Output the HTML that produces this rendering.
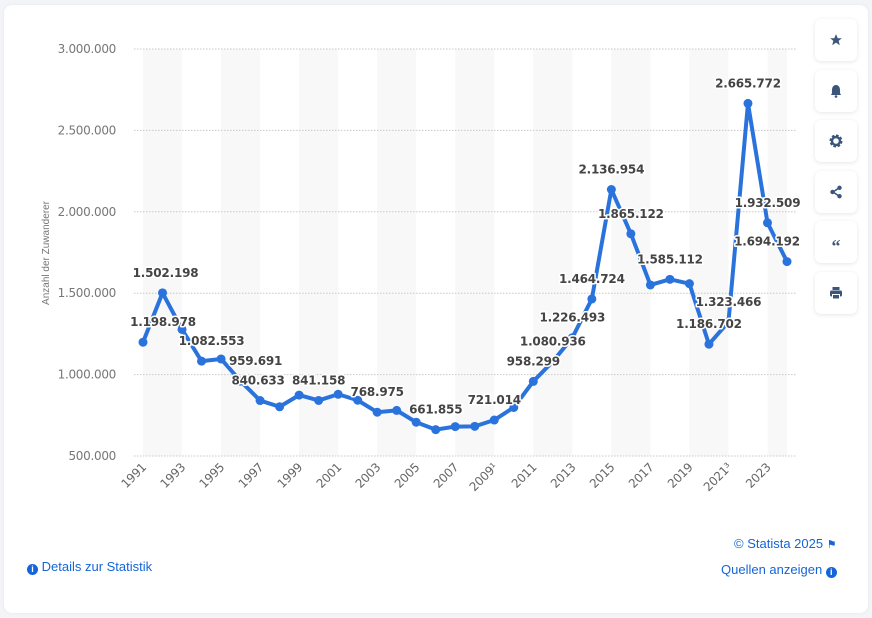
<!DOCTYPE html>
<html><head><meta charset="utf-8">
<style>
body{margin:0;width:872px;height:618px;background:#f3f4f7;font-family:"Liberation Sans",sans-serif;overflow:hidden;position:relative}
.card{position:absolute;left:4px;top:5px;width:864px;height:608px;background:#fff;border-radius:8px;box-shadow:0 0 3px rgba(0,0,0,0.06)}
.btn{position:absolute;left:815px;width:42px;height:42px;background:#fff;border-radius:6px;box-shadow:0 1px 4px rgba(0,0,0,0.1);display:flex;align-items:center;justify-content:center}
.lnk{position:absolute;color:#1565d8;font-size:13px}
.ic{display:inline-block;width:11px;height:11px;border-radius:50%;background:#1565d8;color:#fff;font-size:9px;font-weight:bold;text-align:center;line-height:11px;vertical-align:-1px}
</style></head><body>
<div class="card"></div>
<svg id="chart" width="872" height="618" style="position:absolute;left:0;top:0"></svg>
<div class="btn" style="top:19px"><svg width="14" height="14" viewBox="0 0 24 24"><path d="M12 2l3 7h7l-5.5 4.5 2 7.5-6.5-4.5-6.5 4.5 2-7.5L2 9h7z" fill="#3c5679"/></svg></div>
<div class="btn" style="top:70px"><svg width="12" height="14" viewBox="0 0 12 14"><path d="M6 1C3 1 2 4 2 6v3L1 11h10l-1-2V6c0-2-1-5-4-5z" fill="#3c5679"/><circle cx="6" cy="12.5" r="1.3" fill="#3c5679"/></svg></div>
<div class="btn" style="top:120px"><svg width="14" height="14" viewBox="0 0 14 14"><circle cx="7" cy="7" r="5" fill="none" stroke="#3c5679" stroke-width="3" stroke-dasharray="2.4 1.5"/><circle cx="7" cy="7" r="4" fill="none" stroke="#3c5679" stroke-width="2.4"/></svg></div>
<div class="btn" style="top:171px"><svg width="14" height="14" viewBox="0 0 14 14"><path d="M10 3L4 7l6 4" stroke="#3c5679" stroke-width="1.6" fill="none"/><circle cx="10.5" cy="2.8" r="2.2" fill="#3c5679"/><circle cx="3.5" cy="7" r="2.2" fill="#3c5679"/><circle cx="10.5" cy="11.2" r="2.2" fill="#3c5679"/></svg></div>
<div class="btn" style="top:221px;color:#3c5679;font-weight:bold;font-size:18px;font-family:'Liberation Serif',serif;line-height:42px"><span style="margin-top:8px">&#8220;</span></div>
<div class="btn" style="top:272px"><svg width="14" height="14" viewBox="0 0 14 14"><rect x="3.5" y="1" width="7" height="3" fill="#3c5679"/><rect x="1" y="4.5" width="12" height="6" rx="1.5" fill="#3c5679"/><rect x="3.5" y="8.5" width="7" height="4.5" fill="#3c5679" stroke="#fff" stroke-width="1"/></svg></div>
<div class="lnk" style="left:27px;top:559px"><span class="ic">i</span> Details zur Statistik</div>
<div class="lnk" style="left:734px;top:536px">© Statista 2025 <span style="font-size:11px">&#9873;</span></div>
<div class="lnk" style="left:721px;top:562px">Quellen anzeigen <span class="ic">i</span></div>
<script>
const years=[1991,1992,1993,1994,1995,1996,1997,1998,1999,2000,2001,2002,2003,2004,2005,2006,2007,2008,2009,2010,2011,2012,2013,2014,2015,2016,2017,2018,2019,2020,2021,2022,2023,2024];
const values=[1198978,1502198,1277408,1082553,1096048,959691,840633,802456,874023,841158,879217,842543,768975,780175,707352,661855,680766,682146,721014,798282,958299,1080936,1226493,1464724,2136954,1865122,1550721,1585112,1558612,1186702,1323466,2665772,1932509,1694192];
const labeled=[1991,1992,1994,1996,1997,2000,2003,2006,2009,2011,2012,2013,2014,2015,2016,2018,2020,2021,2022,2023,2024];
const yTicks=[500000,1000000,1500000,2000000,2500000,3000000];
const xTickLabels=["1991","1993","1995","1997","1999","2001","2003","2005","2007","2009¹","2011","2013","2015","2017","2019","2021³","2023"];
const NS="http://www.w3.org/2000/svg",svg=document.getElementById('chart');
const x0=143,x1=787,yTop=49,yBot=456,vMin=500000,vMax=3000000;
const xs=y=>x0+(y-years[0])*(x1-x0)/(years[years.length-1]-years[0]);
const ys=v=>yBot-(v-vMin)*(yBot-yTop)/(vMax-vMin);
const fmt=v=>String(v).replace(/\B(?=(\d{3})+(?!\d))/g,'.');
const labelShift={1991:20,1992:3,1994:10,1996:15,1997:-2,2024:-20};
function el(t,a){const e=document.createElementNS(NS,t);for(const k in a)e.setAttribute(k,a[k]);svg.appendChild(e);return e;}
for(let y=1991;y<=2024;y+=4){const b=el('rect',{x:xs(y),y:yTop,width:xs(Math.min(y+2,2024))-xs(y),height:yBot-yTop,fill:'#f8f8f8'});

}
yTicks.forEach(t=>{const l=el('line',{x1:134,x2:796,y1:ys(t),y2:ys(t),stroke:'#c8c8c8','stroke-dasharray':'1.5 1.5'});


const tx=el('text',{x:116,y:ys(t)+4,'text-anchor':'end','font-size':'12',fill:'#777','font-family':'DejaVu Sans, sans-serif','letter-spacing':'-0.3'});tx.textContent=fmt(t);

});
const yt=el('text',{transform:'translate(49,253) rotate(-90)','text-anchor':'middle','font-size':'10',fill:'#777'});yt.textContent='Anzahl der Zuwanderer';


xTickLabels.forEach((s,i)=>{const yr=1991+2*i,x=xs(yr);const t=el('text',{transform:`translate(${x+4},${468}) rotate(-45)`,'text-anchor':'end','font-size':'12',fill:'#666','font-family':'DejaVu Sans, sans-serif','letter-spacing':'-0.3'});t.textContent=s;

});
const pts=years.map((y,i)=>xs(y)+','+ys(values[i])).join(' ');
const pl=el('polyline',{points:pts,fill:'none',stroke:'#2a73dc','stroke-width':'4','stroke-linejoin':'round'});


years.forEach((y,i)=>{const c=el('circle',{cx:xs(y),cy:ys(values[i]),r:4.5,fill:'#2a73dc'});

});
years.forEach((y,i)=>{if(!labeled.includes(y))return;const dx=labelShift[y]||0;
const t=el('text',{x:xs(y)+dx,y:ys(values[i])-16,'text-anchor':'middle','font-size':'12','font-weight':'bold',fill:'#444','font-family':'DejaVu Sans, sans-serif','letter-spacing':'-0.2',stroke:'#fff','stroke-width':'3','paint-order':'stroke','stroke-linejoin':'round'});t.textContent=fmt(values[i]);

});
</script>
</body></html>
